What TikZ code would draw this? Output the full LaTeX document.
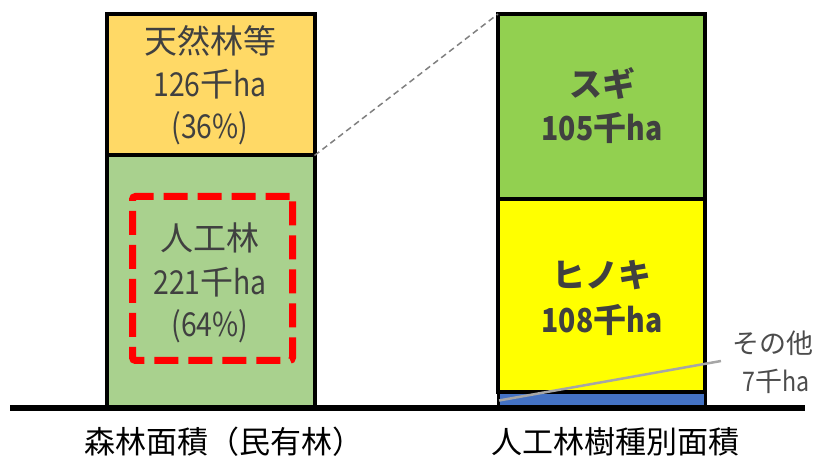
\documentclass[tikz,border=0pt]{standalone}
\usepackage{fontspec}
\setmainfont{Noto Sans CJK JP}
\newcommand{\nr}[1]{\scalebox{0.86}[1]{#1}}
\begin{document}
\begin{tikzpicture}[x=1pt,y=-1pt,
  bar/.style={draw=black,line width=4pt,inner sep=0pt,outer sep=0pt,anchor=north west},
  txt/.style={text=black!75,font=\fontsize{33}{33}\selectfont,inner sep=0pt},
  btxt/.style={text=black!75,font=\fontsize{33}{33}\selectfont\bfseries,inner sep=0pt},
  lab/.style={text=black,font=\fontsize{31}{31}\selectfont,inner sep=0pt},
  note/.style={text=black!70,font=\fontsize{27}{27}\selectfont,inner sep=0pt}]
\definecolor{cOrange}{HTML}{FFD966}
\definecolor{cLGreen}{HTML}{A9D18E}
\definecolor{cGreen}{HTML}{92D050}
\definecolor{cYellow}{HTML}{FFFF00}
\definecolor{cBlue}{HTML}{4472C4}
\useasboundingbox (0,0) rectangle (823,462);
% left bar
\node[bar,fill=cOrange,minimum width=207.5pt,minimum height=141.5pt] (ten) at (107,14) {};
\node[bar,fill=cLGreen,minimum width=207.5pt,minimum height=253pt] (jin) at (107,155.5) {};
% right bar
\node[bar,fill=cGreen,minimum width=207pt,minimum height=185.5pt] (sugi) at (498,14) {};
\node[bar,fill=cYellow,minimum width=207pt,minimum height=192.5pt] (hino) at (498,199.5) {};
\node[bar,fill=cBlue,line width=3pt,minimum width=207pt,minimum height=16pt] (sono) at (498,392.5) {};
% red dashed box
\node[draw=red,line width=7pt,dash pattern=on 24pt off 10pt,rounded corners=3pt,
  minimum width=160pt,minimum height=164pt,inner sep=0pt,anchor=north west] (red) at (129,193) {};
% baseline
\coordinate (bl) at (10,408.5);
\coordinate (br) at (805,408.5);
\draw[line width=6pt] (bl) -- (br);
% texts left
\node[txt] (t1) at (210,41) {天然林等};
\node[txt] (t2) at (210,84) {\nr{126}千\nr{ha}};
\node[txt] (t3) at (210,128) {\nr{(36\%)}};
\node[txt] (j1) at (210,238) {人工林};
\node[txt] (j2) at (210,282) {\nr{221}千\nr{ha}};
\node[txt] (j3) at (210,326) {\nr{(64\%)}};
% texts right
\node[btxt] (s1) at (602,83) {スギ};
\node[btxt] (s2) at (602,128) {\nr{105}千\nr{ha}};
\node[btxt] (h1) at (602,275) {ヒノキ};
\node[btxt] (h2) at (602,320) {\nr{108}千\nr{ha}};
\node[note] (o1) at (773,343) {その他};
\node[note] (o2) at (776,381) {\nr{7}千\nr{ha}};
% connectors
\draw[black!50,line width=1.5pt,dash pattern=on 6pt off 4pt] (jin.north east) -- (sugi.north west);
\coordinate (oe) at (721,361);
\draw[black!35,line width=2.5pt] ([xshift=1pt]sono.west) -- (oe);
% bottom labels
\node[lab] (L1) at (224,442) {森林面積（民有林）};
\node[lab] (L2) at (615,442) {人工林樹種別面積};
\end{tikzpicture}
\end{document}
